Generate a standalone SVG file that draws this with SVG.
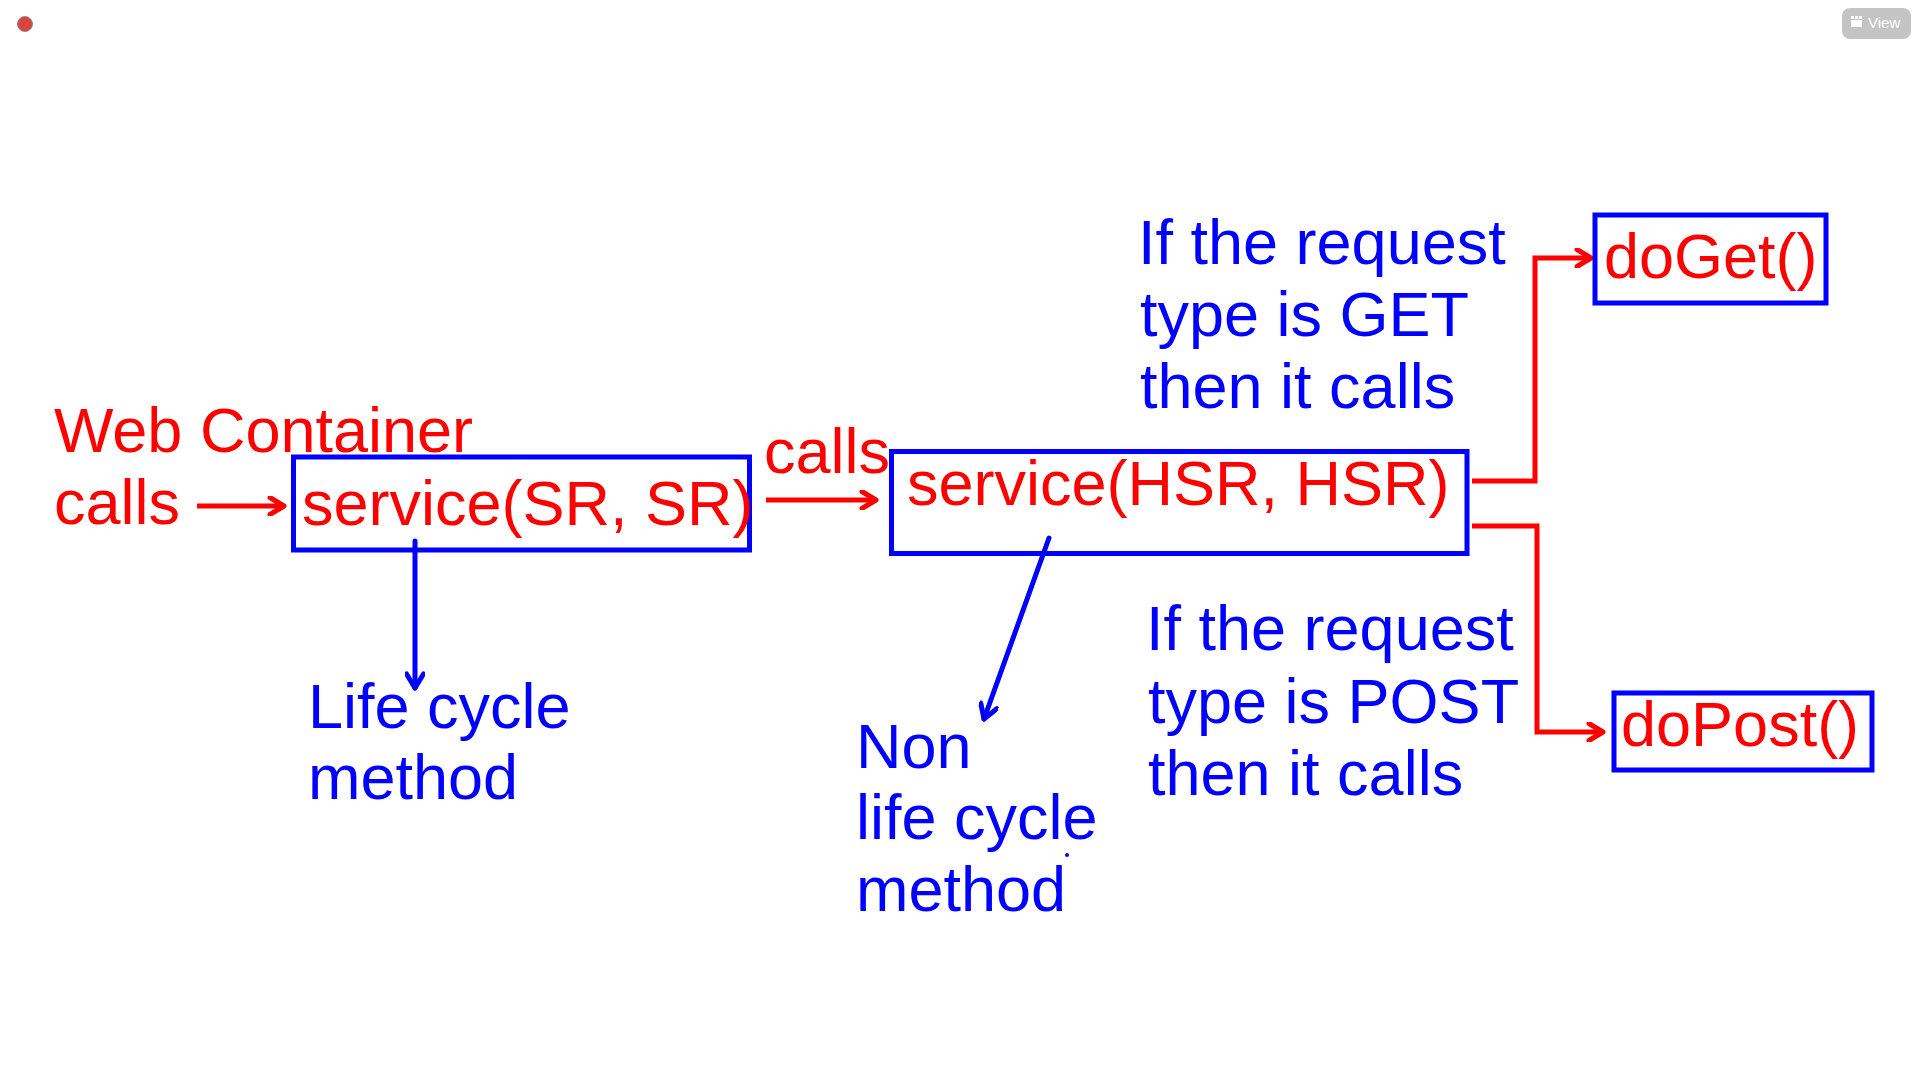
<svg xmlns="http://www.w3.org/2000/svg" width="1920" height="1080" viewBox="0 0 1920 1080">
<style>
  text { font-family: "Liberation Sans", Arial, sans-serif; font-size: 63px; }
  .red { fill: #ff0000; }
  .blue { fill: #0000ff; }
  .box { fill: none; stroke: #0000ff; stroke-width: 5; }
  .rc { fill: none; stroke: #ff0000; stroke-width: 5; stroke-linejoin: miter; }
  .bc { fill: none; stroke: #0000ff; stroke-width: 5; stroke-linecap: round; }
</style>
<defs>
  <marker id="ahr" viewBox="0 0 20 20" markerWidth="20" markerHeight="20" markerUnits="userSpaceOnUse" refX="17" refY="10" orient="auto">
    <path d="M3,1.5 L17,10 L3,18.5" fill="none" stroke="#ff0000" stroke-width="5" stroke-linecap="round" stroke-linejoin="round"/>
  </marker>
  <marker id="ahb" viewBox="0 0 20 20" markerWidth="20" markerHeight="20" markerUnits="userSpaceOnUse" refX="17" refY="10" orient="auto">
    <path d="M3,1.5 L17,10 L3,18.5" fill="none" stroke="#0000ff" stroke-width="5" stroke-linecap="round" stroke-linejoin="round"/>
  </marker>
</defs>
<rect x="0" y="0" width="1920" height="1080" fill="#ffffff"/>

<g id="ui">
  <circle cx="25" cy="24" r="7.5" fill="#d9453c" stroke="#8a8a8a" stroke-width="1"/>
  <rect x="1842" y="8" width="69" height="31" rx="8" fill="#c4c4c4"/>
  <rect x="1851" y="16" width="3" height="3" fill="#ffffff"/>
  <rect x="1855" y="16" width="3" height="3" fill="#ffffff"/>
  <rect x="1859" y="16" width="3" height="3" fill="#ffffff"/>
  <rect x="1851" y="20" width="11" height="7" fill="#ffffff"/>
  <text x="1868" y="28" style="font-family: 'Liberation Sans', Arial, sans-serif; font-size: 15px;" fill="#ffffff">View</text>
</g>

<g id="connectors">
  <line class="rc" x1="197" y1="506" x2="284" y2="506" marker-end="url(#ahr)"/>
  <line class="rc" x1="766" y1="500" x2="876" y2="500" marker-end="url(#ahr)"/>
  <polyline class="rc" points="1472,481 1535,481 1535,258 1591,258" marker-end="url(#ahr)"/>
  <polyline class="rc" points="1472,526 1537,526 1537,732 1603,732" marker-end="url(#ahr)"/>
  <line class="bc" x1="415" y1="541" x2="415" y2="688" marker-end="url(#ahb)"/>
  <line class="bc" x1="1049" y1="538" x2="984" y2="719" marker-end="url(#ahb)"/>
</g>

<g id="web-container">
  <text class="red" x="54" y="452">Web Container</text>
  <text class="red" x="54" y="524">calls</text>
</g>

<g id="service-sr">
  <rect class="box" x="293.5" y="457" width="456" height="93"/>
  <text class="red" x="302" y="525">service(SR, SR)</text>
</g>

<g id="calls-label">
  <text class="red" x="764" y="473">calls</text>
</g>

<g id="service-hsr">
  <rect class="box" x="891.5" y="451.5" width="575.5" height="102"/>
  <text class="red" x="907" y="505">service(HSR, HSR)</text>
</g>

<g id="get-label">
  <text class="blue" x="1138" y="264">If the request</text>
  <text class="blue" x="1140" y="336">type is GET</text>
  <text class="blue" x="1140" y="408">then it calls</text>
</g>

<g id="doget">
  <rect class="box" x="1595" y="215" width="231" height="88"/>
  <text class="red" x="1604" y="278">doGet()</text>
</g>

<g id="post-label">
  <text class="blue" x="1146" y="650">If the request</text>
  <text class="blue" x="1148" y="723">type is POST</text>
  <text class="blue" x="1148" y="795">then it calls</text>
</g>

<g id="dopost">
  <rect class="box" x="1614" y="693" width="258" height="77"/>
  <text class="red" x="1621" y="746">doPost()</text>
</g>

<g id="lifecycle">
  <text class="blue" x="308" y="728">Life cycle</text>
  <text class="blue" x="308" y="799">method</text>
</g>

<g id="non-lifecycle">
  <text class="blue" x="856" y="768">Non</text>
  <text class="blue" x="856" y="839">life cycle</text>
  <text class="blue" x="856" y="911">method</text>
  <circle cx="1067" cy="855" r="2" fill="#0000ff"/>
</g>
</svg>
